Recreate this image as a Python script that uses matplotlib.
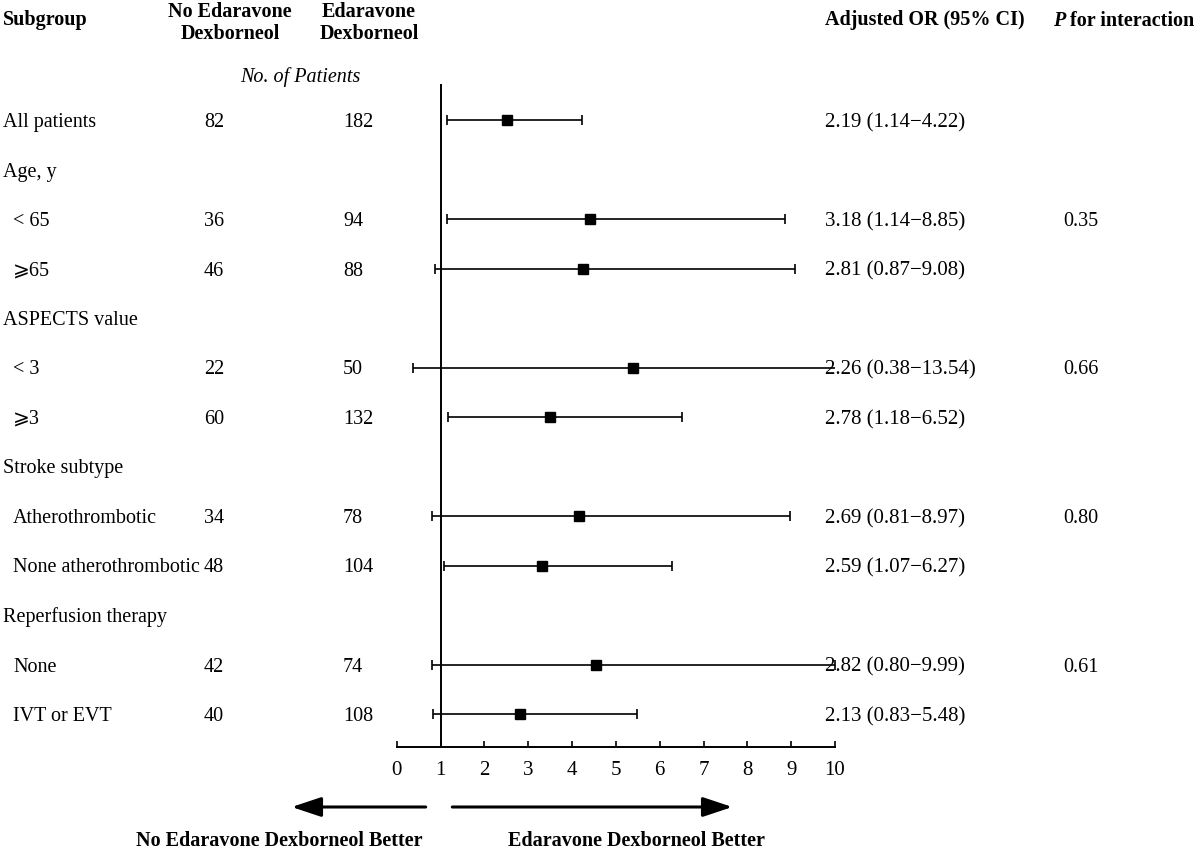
import matplotlib
matplotlib.use('Agg')
import matplotlib.pyplot as plt
from matplotlib.transforms import blended_transform_factory
from matplotlib.patches import ArrowStyle

plt.rcParams['font.family'] = ['Liberation Serif', 'DejaVu Serif', 'DejaVu Sans']
plt.rcParams['font.size'] = 14.5

###############################################################################
# Data

labels = ['All patients', 'Age, y', '< 65', '\u2a7e65', 'ASPECTS value', '< 3',
          '\u2a7e3', 'Stroke subtype', 'Atherothrombotic',
          'None atherothrombotic', 'Reperfusion therapy', 'None', 'IVT or EVT']
is_group = [True, True, False, False, True, False, False, True, False, False,
            True, False, False]
n_control = ['82', '', '36', '46', '', '22', '60', '', '34', '48', '', '42', '40']
n_treated = ['182', '', '94', '88', '', '50', '132', '', '78', '104', '', '74',
             '108']
or_text = ['2.19 (1.14\u22124.22)', '', '3.18 (1.14\u22128.85)',
           '2.81 (0.87\u22129.08)', '', '2.26 (0.38\u221213.54)',
           '2.78 (1.18\u22126.52)', '', '2.69 (0.81\u22128.97)',
           '2.59 (1.07\u22126.27)', '', '2.82 (0.80\u22129.99)',
           '2.13 (0.83\u22125.48)']
p_text = ['', '', '0.35', '', '', '0.66', '', '', '0.80', '', '', '0.61', '']

# marker positions as drawn, CI bounds
point = [2.51, None, 4.40, 4.25, None, 5.40, 3.50, None, 4.16, 3.31, None,
         4.54, 2.81]
ci_low = [1.14, None, 1.14, 0.87, None, 0.38, 1.18, None, 0.81, 1.07, None,
          0.80, 0.83]
ci_high = [4.22, None, 8.85, 9.08, None, 13.54, 6.52, None, 8.97, 6.27, None,
           9.99, 5.48]

xticks = list(range(0, 11))

###############################################################################
# Layout

W, H = 1200, 852
fig = plt.figure(figsize=(W / 100, H / 100), dpi=100)

row0_px, row_step = 120.0, 49.5
def row_of(px):
    return (px - row0_px) / row_step

ax_left, ax_right, ax_top, ax_bot = 396.7, 835.0, 84.0, 747.0
px_per_unit = (ax_right - ax_left) / 10
ax = fig.add_axes([ax_left / W, (H - ax_bot) / H,
                   (ax_right - ax_left) / W, (ax_bot - ax_top) / H])
ax.set_xlim(0, 10)
ax.set_ylim(row_of(ax_bot), row_of(ax_top))
ax.patch.set_alpha(0)

for side in ['top', 'right', 'left']:
    ax.spines[side].set_visible(False)
ax.spines['bottom'].set_linewidth(1.4)
ax.set_yticks([])
ax.set_xticks(xticks)
ax.tick_params(axis='x', direction='in', length=4, width=1.2, pad=10,
               labelsize=15)

ax.axvline(1, color='k', lw=1.4)

for i, (pt, lo, hi) in enumerate(zip(point, ci_low, ci_high)):
    if pt is None:
        continue
    ax.errorbar([pt], [i], xerr=[[pt - lo], [hi - pt]], fmt='s', color='k',
                ms=7, elinewidth=1.2, capsize=3.5, capthick=1.2)

###############################################################################
# Text columns

tr = blended_transform_factory(fig.transFigure, ax.transData)

def put(xpx, row, s, **kw):
    kw.setdefault('va', 'center_baseline')
    ax.text(xpx / W, row, s, transform=tr, **kw)

for i, lab in enumerate(labels):
    put(3 if is_group[i] else 13, i, lab)
    if n_control[i]:
        put(204, i, n_control[i])
    if n_treated[i]:
        put(343, i, n_treated[i])
    if or_text[i]:
        put(825, i, or_text[i], fontsize=15)
    if p_text[i]:
        put(1063, i, p_text[i])

hdr_row = row_of(18)
put(3, hdr_row, 'Subgroup', fontweight='bold')
put(230, row_of(23), 'No Edaravone\nDexborneol', fontweight='bold',
    ha='center', va='center', linespacing=1.12)
put(369, row_of(23), 'Edaravone\nDexborneol', fontweight='bold',
    ha='center', va='center', linespacing=1.12)
put(825, hdr_row, 'Adjusted OR (95% CI)', fontweight='bold')
p_lab = ax.text(1053 / W, hdr_row, 'P', transform=tr, fontweight='bold',
                fontstyle='italic', va='center_baseline')
ax.annotate(' for interaction', xy=(1, 0), xycoords=p_lab, ha='left',
            va='bottom', fontweight='bold')
put(300, row_of(75), 'No. of Patients', fontstyle='italic', ha='center')

# direction arrows below the axis
arrow_row = row_of(807)
style = ArrowStyle('-|>', head_length=1.8, head_width=0.6)
for tail, tip in [(425.7, 291.7), (452.3, 732.3)]:
    ax.annotate('', xy=((tip - ax_left) / px_per_unit, arrow_row),
                xytext=((tail - ax_left) / px_per_unit, arrow_row),
                arrowprops=dict(arrowstyle=style, mutation_scale=10, lw=2.2,
                                color='k', shrinkA=0, shrinkB=0),
                annotation_clip=False)

put(279, row_of(839), 'No Edaravone Dexborneol Better', fontweight='bold',
    ha='center')
put(636, row_of(839), 'Edaravone Dexborneol Better', fontweight='bold',
    ha='center')

fig.savefig('out.png', dpi=100)
